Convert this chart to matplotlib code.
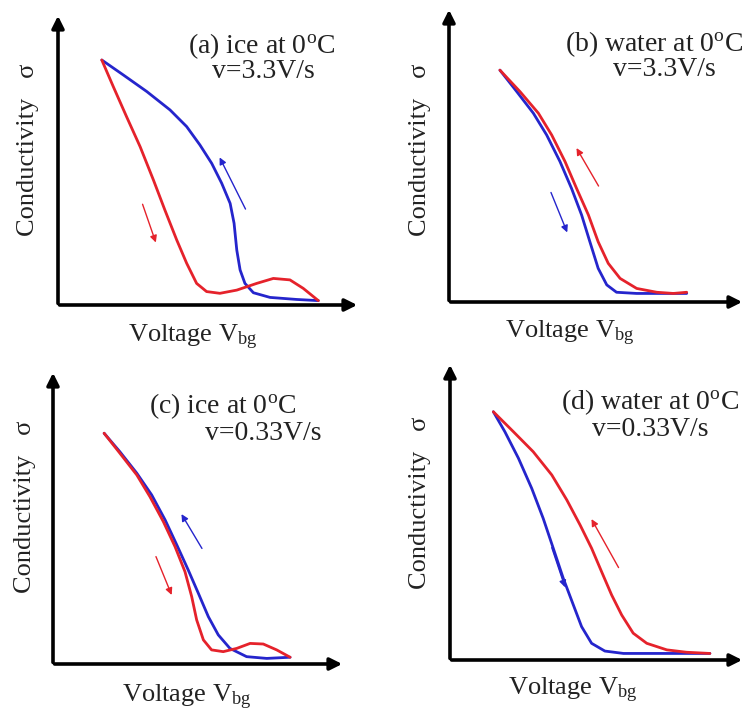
import matplotlib
matplotlib.use("Agg")
import matplotlib.pyplot as plt

plt.rcParams['font.family'] = ['Liberation Serif', 'DejaVu Serif']
plt.rcParams['mathtext.fontset'] = 'custom'
plt.rcParams['mathtext.rm'] = 'Liberation Serif'
plt.rcParams['mathtext.it'] = 'Liberation Serif:italic'

RED = '#e5222b'
BLUE = '#2525cc'

# curve data, arbitrary units (0-10 along each axis)
a_blue_x = [1.45, 2.16, 2.94, 3.71, 4.26, 4.70, 5.09, 5.42, 5.70, 5.83, 5.92, 6.03, 6.19, 6.47, 7.02, 7.90, 8.62]
a_blue_y = [8.39, 7.88, 7.31, 6.68, 6.11, 5.48, 4.85, 4.17, 3.48, 2.80, 1.88, 1.20, 0.74, 0.42, 0.26, 0.19, 0.15]
a_red_x = [1.45, 1.83, 2.27, 2.72, 3.16, 3.54, 3.93, 4.26, 4.59, 4.92, 5.36, 5.92, 6.58, 7.13, 7.68, 8.12, 8.62]
a_red_y = [8.39, 7.48, 6.45, 5.42, 4.28, 3.25, 2.23, 1.43, 0.74, 0.46, 0.40, 0.51, 0.74, 0.91, 0.86, 0.57, 0.15]

b_blue_x = [1.72, 2.29, 2.85, 3.30, 3.75, 4.14, 4.48, 4.76, 5.04, 5.33, 5.66, 6.34, 7.35, 8.03]
b_blue_y = [7.86, 7.13, 6.40, 5.66, 4.76, 3.85, 2.95, 2.04, 1.14, 0.58, 0.33, 0.29, 0.29, 0.29]
b_red_x = [1.72, 2.40, 3.02, 3.47, 3.92, 4.31, 4.71, 5.04, 5.38, 5.78, 6.34, 7.02, 7.58, 8.03]
b_red_y = [7.86, 7.13, 6.40, 5.66, 4.76, 3.85, 2.95, 2.04, 1.31, 0.80, 0.46, 0.33, 0.29, 0.33]

c_blue_x = [1.75, 2.29, 2.87, 3.38, 3.84, 4.24, 4.63, 4.98, 5.32, 5.66, 6.06, 6.63, 7.32, 8.12]
c_blue_y = [7.85, 7.22, 6.49, 5.75, 4.90, 4.05, 3.20, 2.40, 1.61, 0.99, 0.53, 0.25, 0.19, 0.23]
c_red_x = [1.75, 2.29, 2.87, 3.32, 3.78, 4.18, 4.52, 4.75, 4.92, 5.15, 5.43, 5.83, 6.29, 6.75, 7.20, 7.66, 8.12]
c_red_y = [7.85, 7.17, 6.43, 5.69, 4.84, 3.99, 3.14, 2.29, 1.50, 0.82, 0.48, 0.42, 0.53, 0.70, 0.68, 0.48, 0.23]

d_blue_x = [1.47, 1.86, 2.32, 2.77, 3.16, 3.50, 3.84, 4.18, 4.46, 4.80, 5.25, 5.88, 7.23, 8.81]
d_blue_y = [8.33, 7.66, 6.77, 5.76, 4.75, 3.75, 2.74, 1.85, 1.12, 0.56, 0.30, 0.22, 0.22, 0.22]
d_red_x = [1.47, 2.15, 2.82, 3.45, 3.96, 4.41, 4.80, 5.14, 5.48, 5.82, 6.21, 6.67, 7.35, 8.02, 8.81]
d_red_y = [8.33, 7.66, 6.99, 6.21, 5.37, 4.53, 3.75, 2.96, 2.18, 1.51, 0.90, 0.56, 0.34, 0.26, 0.22]

# sweep direction arrows: (tail x, tail y, head x, head y)
a_arrows = [(6.25, 3.20, 5.31, 5.14, BLUE), (2.77, 3.54, 3.27, 2.05, RED)]
b_arrows = [(5.10, 3.85, 4.26, 5.30, RED), (3.41, 3.80, 4.03, 2.27, BLUE)]
c_arrows = [(5.15, 3.85, 4.35, 5.18, BLUE), (3.49, 3.74, 4.10, 2.26, RED)]
d_arrows = [(5.76, 3.02, 4.75, 4.81, RED), (3.42, 3.86, 3.93, 2.35, BLUE)]

titles = ['(a) ice at 0$^\\mathrm{o}$C', '(b) water at 0$^\\mathrm{o}$C',
          '(c) ice at 0$^\\mathrm{o}$C', '(d) water at 0$^\\mathrm{o}$C']
rates = ['v=3.3V/s', 'v=3.3V/s', 'v=0.33V/s', 'v=0.33V/s']

W, H = 746, 715
fig = plt.figure(figsize=(W / 100, H / 100), dpi=100)

# pixel layout: axis origin x, x-axis y, arrow tip x, arrow tip y
boxes = [(58, 305, 360, 13), (449, 302, 745, 7), (53, 664, 345, 370), (450, 660, 745, 362)]
title_pos = [((262, 46), (263, 72)), ((654, 44), (664, 70)),
             ((223, 406), (263, 434)), ((650, 402), (650, 430))]
ylab_pos = [(28, 150), (420, 150), (25, 507), (420, 503)]
xlab_pos = [(193, 337), (570, 333), (187, 697), (573, 690)]

panels = [(a_blue_x, a_blue_y, a_red_x, a_red_y, a_arrows),
          (b_blue_x, b_blue_y, b_red_x, b_red_y, b_arrows),
          (c_blue_x, c_blue_y, c_red_x, c_red_y, c_arrows),
          (d_blue_x, d_blue_y, d_red_x, d_red_y, d_arrows)]

for i, (bx, by, rx, ry, arrows) in enumerate(panels):
    x0, y0, x1, y1 = boxes[i]
    ax = fig.add_axes([x0 / W, 1 - y0 / H, (x1 - x0) / W, (y0 - y1) / H])
    ax.set_xlim(0, 10)
    ax.set_ylim(0, 10)
    ax.axis('off')
    # axes with arrow heads
    ax.annotate('', xy=(0, 1), xytext=(0, -0.004), xycoords='axes fraction',
                arrowprops=dict(arrowstyle='-|>', lw=2.6, color='black', mutation_scale=18))
    ax.annotate('', xy=(1, 0), xytext=(-0.004, 0), xycoords='axes fraction',
                arrowprops=dict(arrowstyle='-|>', lw=2.6, color='black', mutation_scale=18))
    ax.plot(bx, by, color=BLUE, lw=2.0, solid_capstyle='round', solid_joinstyle='round')
    ax.plot(rx, ry, color=RED, lw=2.0, solid_capstyle='round', solid_joinstyle='round')
    for tx, ty, hx, hy, col in arrows:
        ax.annotate('', xy=(hx, hy), xytext=(tx, ty),
                    arrowprops=dict(arrowstyle='-|>', lw=1.0, color=col, mutation_scale=10))

    (t1x, t1y), (t2x, t2y) = title_pos[i]
    fig.text(t1x / W, 1 - t1y / H, titles[i], fontsize=20, ha='center', va='center', color='#222222')
    fig.text(t2x / W, 1 - t2y / H, rates[i], fontsize=20, ha='center', va='center', color='#222222')
    lx, ly = ylab_pos[i]
    fig.text(lx / W, 1 - ly / H, 'Conductivity   \u03c3', fontsize=19, rotation=90,
             ha='center', va='center', color='#222222')
    vx, vy = xlab_pos[i]
    fig.text(vx / W, 1 - vy / H, 'Voltage V$_\\mathrm{bg}$', fontsize=19,
             ha='center', va='center', color='#222222')

fig.savefig('out.png', dpi=100)
